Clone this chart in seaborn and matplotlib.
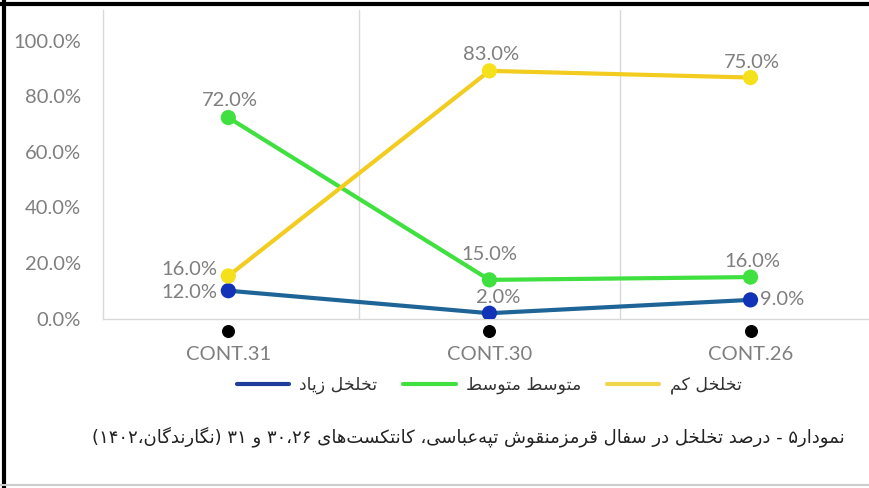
import numpy as np
import pandas as pd
import matplotlib
matplotlib.use("Agg")
import matplotlib.pyplot as plt
import matplotlib.transforms as mtransforms
from matplotlib.lines import Line2D
from matplotlib.ticker import PercentFormatter, FixedLocator
import seaborn as sns


# values (plotted positions) and the printed data labels
categories = ["CONT.31", "CONT.30", "CONT.26"]
series_names = ["تخلخل زیاد", "متوسط متوسط", "تخلخل کم"]
high_values = [0.100, 0.019, 0.067]
mid_values = [0.723, 0.139, 0.149]
low_values = [0.153, 0.891, 0.867]
high_labels = ["12.0%", "2.0%", "9.0%"]
mid_labels = ["72.0%", "15.0%", "16.0%"]
low_labels = ["16.0%", "83.0%", "75.0%"]
y_ticks = [0.0, 0.2, 0.4, 0.6, 0.8, 1.0]
caption = "نمودار۵ - درصد تخلخل در سفال قرمزمنقوش تپه‌عباسی، کانتکست‌های ۳۰،۲۶ و ۳۱ (نگارندگان،۱۴۰۲)"

LINE_COLORS = ["#1E6496", "#3FE03F", "#F2CC1F"]
MARKER_COLORS = ["#1233B8", "#3FE03F", "#F5E11B"]
LEGEND_COLORS = ["#1E3C9C", "#3FE03F", "#F2D64A"]
GRAY = "#7F7F7F"
NUM_FONT = ["Lato", "DejaVu Sans"]

# isolated, final, initial, medial (right-joining letters only have two)
FORMS = {
    "\u0627": ("\uFE8D", "\uFE8E"),
    "\u0628": ("\uFE8F", "\uFE90", "\uFE91", "\uFE92"),
    "\u067E": ("\uFB56", "\uFB57", "\uFB58", "\uFB59"),
    "\u062A": ("\uFE95", "\uFE96", "\uFE97", "\uFE98"),
    "\u062E": ("\uFEA5", "\uFEA6", "\uFEA7", "\uFEA8"),
    "\u062F": ("\uFEA9", "\uFEAA"),
    "\u0631": ("\uFEAD", "\uFEAE"),
    "\u0632": ("\uFEAF", "\uFEB0"),
    "\u0633": ("\uFEB1", "\uFEB2", "\uFEB3", "\uFEB4"),
    "\u0634": ("\uFEB5", "\uFEB6", "\uFEB7", "\uFEB8"),
    "\u0635": ("\uFEB9", "\uFEBA", "\uFEBB", "\uFEBC"),
    "\u0637": ("\uFEC1", "\uFEC2", "\uFEC3", "\uFEC4"),
    "\u0639": ("\uFEC9", "\uFECA", "\uFECB", "\uFECC"),
    "\u0641": ("\uFED1", "\uFED2", "\uFED3", "\uFED4"),
    "\u0642": ("\uFED5", "\uFED6", "\uFED7", "\uFED8"),
    "\u0644": ("\uFEDD", "\uFEDE", "\uFEDF", "\uFEE0"),
    "\u0645": ("\uFEE1", "\uFEE2", "\uFEE3", "\uFEE4"),
    "\u0646": ("\uFEE5", "\uFEE6", "\uFEE7", "\uFEE8"),
    "\u0647": ("\uFEE9", "\uFEEA", "\uFEEB", "\uFEEC"),
    "\u0648": ("\uFEED", "\uFEEE"),
    "\u06A9": ("\uFB8E", "\uFB8F", "\uFB90", "\uFB91"),
    "\u06AF": ("\uFB92", "\uFB93", "\uFB94", "\uFB95"),
    "\u06CC": ("\uFBFC", "\uFBFD", "\uFBFE", "\uFBFF"),
}
DIGITS = set("۰۱۲۳۴۵۶۷۸۹0123456789")
MIRROR = {"(": ")", ")": "("}


def shape_fa(text):
    # matplotlib has no arabic shaping, so pick presentation forms and lay out right to left
    chars = list(text.replace("\u064A", "\u06CC").replace("\u0643", "\u06A9"))
    shaped = []
    for i, ch in enumerate(chars):
        if ch not in FORMS:
            shaped.append("" if ch == "\u200c" else ch)
            continue
        forms = FORMS[ch]
        prev = chars[i - 1] if i > 0 else ""
        nxt = chars[i + 1] if i + 1 < len(chars) else ""
        join_prev = prev in FORMS and len(FORMS[prev]) == 4
        join_next = len(forms) == 4 and nxt in FORMS
        if join_prev and join_next:
            shaped.append(forms[3])
        elif join_prev:
            shaped.append(forms[1])
        elif join_next:
            shaped.append(forms[2])
        else:
            shaped.append(forms[0])

    tokens = []
    i = 0
    while i < len(chars):
        if chars[i] in DIGITS:
            j = i
            while j + 1 < len(chars) and (chars[j + 1] in DIGITS or (
                    chars[j + 1] in "،." and j + 2 < len(chars) and chars[j + 2] in DIGITS)):
                j += 1
            tokens.append("".join(shaped[i:j + 1]))
            i = j + 1
        else:
            tokens.append(MIRROR.get(shaped[i], shaped[i]))
            i += 1
    return "".join(reversed(tokens))


def draw_chart():
    sns.set_theme(style="white")
    plt.rcParams["font.family"] = NUM_FONT

    df = pd.DataFrame({
        "category": categories * 3,
        "series": [series_names[0]] * 3 + [series_names[1]] * 3 + [series_names[2]] * 3,
        "value": high_values + mid_values + low_values,
    })

    fig = plt.figure(figsize=(8.69, 4.88), dpi=100)
    ax = fig.add_axes([103 / 869, 1 - 318.5 / 488, 765 / 869, 308.5 / 488])

    sns.lineplot(data=df, x="category", y="value", hue="series", sort=False,
                 palette=dict(zip(series_names, LINE_COLORS)), linewidth=3,
                 legend=False, ax=ax)
    sns.scatterplot(data=df, x="category", y="value", hue="series", s=120,
                    palette=dict(zip(series_names, MARKER_COLORS)), linewidth=0,
                    legend=False, zorder=4, ax=ax)

    # data labels: (offset x pt, offset y pt, ha)
    label_layout = [
        [(-8, -1, "right"), (6, 11, "center"), (7, 0, "left")],
        [(1, 12.5, "center"), (0, 18, "center"), (1, 11, "center")],
        [(-8, 5, "right"), (1, 12, "center"), (1, 11, "center")],
    ]
    for vals, labs, lay in zip([high_values, mid_values, low_values],
                               [high_labels, mid_labels, low_labels], label_layout):
        for k, (v, lab) in enumerate(zip(vals, labs)):
            dx, dy, ha = lay[k]
            ax.annotate(lab, (k, v), xytext=(dx, dy), textcoords="offset points",
                        ha=ha, va="center", fontsize=14.5, color=GRAY, zorder=5)

    # black dots under each category
    trans = mtransforms.blended_transform_factory(ax.transData, ax.transAxes)
    ax.scatter(np.arange(len(categories)), [-0.04] * len(categories), s=70,
               color="black", transform=trans, clip_on=False, zorder=5)

    ax.set_xlim(-0.48, 2.45)
    ax.set_ylim(0, 1.11)
    ax.set_yticks(y_ticks)
    ax.yaxis.set_major_formatter(PercentFormatter(xmax=1, decimals=1))
    ax.xaxis.set_minor_locator(FixedLocator(np.arange(len(categories) - 1) + 0.5))
    ax.grid(False)
    ax.grid(which="minor", axis="x", color="#D9D9D9", linewidth=1)
    ax.tick_params(axis="y", length=0, pad=16, labelsize=14.5, labelcolor=GRAY)
    ax.tick_params(axis="x", which="both", length=0, pad=20, labelsize=14.5, labelcolor=GRAY)
    ax.set_xlabel("")
    ax.set_ylabel("")
    for side in ["top", "right"]:
        ax.spines[side].set_visible(False)
    for side in ["left", "bottom"]:
        ax.spines[side].set_color("#D9D9D9")
        ax.spines[side].set_linewidth(1)

    handles = [Line2D([], [], color=c, linewidth=3) for c in LEGEND_COLORS]
    fig.legend(handles, [shape_fa(s) for s in series_names], loc="center",
               bbox_to_anchor=(0.563, 0.211), ncol=3, frameon=False,
               prop={"family": "DejaVu Sans", "size": 12.5}, handlelength=3,
               handletextpad=0.6, columnspacing=1.5, labelcolor="#333333")

    fig.text(0.539, 1 - 437 / 488, shape_fa(caption), ha="center", va="center",
             family="DejaVu Sans", fontsize=13, color="#222222")

    # picture frame
    fig.add_artist(Line2D([0, 1], [1 - 4 / 488] * 2, color="black", linewidth=3,
                          transform=fig.transFigure))
    fig.add_artist(Line2D([4 / 869] * 2, [0, 1], color="black", linewidth=3,
                          transform=fig.transFigure))
    fig.add_artist(Line2D([0, 1], [3 / 488] * 2, color="#CCCCCC", linewidth=1.5,
                          transform=fig.transFigure))

    fig.savefig("out.png", dpi=100)
    plt.close(fig)


if __name__ == "__main__":
    draw_chart()
